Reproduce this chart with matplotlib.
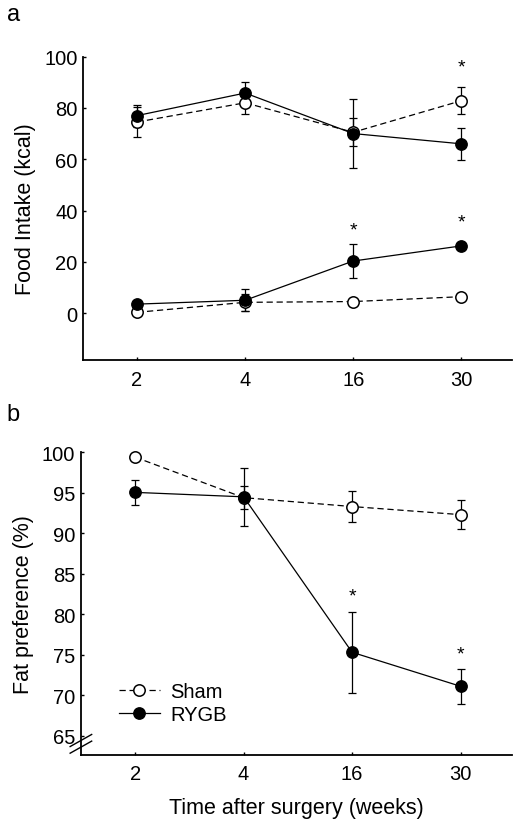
import matplotlib
matplotlib.use("Agg")
import matplotlib.pyplot as plt
import numpy as np

plt.rcParams['font.family'] = ['Liberation Sans', 'DejaVu Sans']

weeks = ["2", "4", "16", "30"]

# Panel a: food intake (kcal)
sham_total = [74.5, 82.0, 70.5, 82.8]
sham_total_err = [6.0, 4.5, 5.5, 5.3]
rygb_total = [77.0, 85.8, 70.0, 66.0]
rygb_total_err = [4.3, 4.2, 13.6, 6.2]
sham_fat = [0.3, 4.2, 4.5, 6.4]
sham_fat_err = [0.5, 3.2, 0.5, 0.5]
rygb_fat = [3.5, 5.0, 20.3, 26.2]
rygb_fat_err = [0.8, 4.3, 6.6, 0.8]
stars_a_x = [3, 2, 3]
stars_a_y = [96.0, 32.5, 35.5]

# Panel b: fat preference (%)
sham_pref = [99.4, 94.4, 93.3, 92.3]
sham_pref_err = [0.3, 1.4, 1.9, 1.8]
rygb_pref = [95.05, 94.5, 75.3, 71.1]
rygb_pref_err = [1.55, 3.6, 5.0, 2.15]
stars_b_x = [2, 3]
stars_b_y = [82.3, 75.1]

fig = plt.figure(figsize=(5.22, 8.29), dpi=100)
ax1 = fig.add_axes([0.159, 0.5645, 0.822, 0.366])
ax2 = fig.add_axes([0.155, 0.0884, 0.825, 0.3648])

x = np.arange(len(weeks))
ms = 8.2
lw = 0.9
cap = 2.6

def sham_plot(ax, y, e, label=None):
    ax.errorbar(x, y, yerr=e, fmt='none', ecolor='black', capsize=cap,
                capthick=lw, elinewidth=lw, clip_on=False, zorder=2)
    ax.plot(x, y, color='black', lw=lw, ls=(0, (5, 3)), marker='o',
            ms=ms, mfc='white', mec='black', mew=1.1, clip_on=False,
            zorder=3, label=label)

def rygb_plot(ax, y, e, label=None):
    ax.errorbar(x, y, yerr=e, fmt='none', ecolor='black', capsize=cap,
                capthick=lw, elinewidth=lw, clip_on=False, zorder=2)
    ax.plot(x, y, color='black', lw=lw, ls='-', marker='o',
            ms=ms, mfc='black', mec='black', clip_on=False,
            zorder=4, label=label)

sham_plot(ax1, sham_total, sham_total_err)
rygb_plot(ax1, rygb_total, rygb_total_err)
sham_plot(ax1, sham_fat, sham_fat_err)
rygb_plot(ax1, rygb_fat, rygb_fat_err)
for sx, sy in zip(stars_a_x, stars_a_y):
    ax1.text(sx, sy, "*", ha='center', va='center', fontsize=14)

sham_plot(ax2, sham_pref, sham_pref_err, label="Sham")
rygb_plot(ax2, rygb_pref, rygb_pref_err, label="RYGB")
for sx, sy in zip(stars_b_x, stars_b_y):
    ax2.text(sx, sy, "*", ha='center', va='center', fontsize=14)

ax1.set_ylim(-18.3, 100)
ax1.set_yticks([0, 20, 40, 60, 80, 100])
ax2.set_ylim(62.65, 100)
ax2.set_yticks([65, 70, 75, 80, 85, 90, 95, 100])

for ax in (ax1, ax2):
    ax.set_xlim(-0.5, 3.47)
    ax.set_xticks(x)
    ax.set_xticklabels(weeks)
    for s in ('top', 'right'):
        ax.spines[s].set_visible(False)
    for s in ('left', 'bottom'):
        ax.spines[s].set_linewidth(1.3)
    ax.tick_params(direction='in', length=2.5, width=1.0, labelsize=14.5, pad=4)
    ax.tick_params(axis='x', pad=7)

ax1.set_ylabel("Food Intake (kcal)", fontsize=15.5, labelpad=6)
ax2.set_ylabel("Fat preference (%)", fontsize=15.5, labelpad=6)
ax2.set_xlabel("Time after surgery (weeks)", fontsize=15.5, labelpad=10)

# axis break marks
for dy in (0.0, 0.022):
    ax2.plot([-0.025, 0.025], [0.005 + dy, 0.045 + dy], transform=ax2.transAxes,
             color='black', lw=1.0, clip_on=False)

leg = ax2.legend(loc='lower left', bbox_to_anchor=(0.055, 0.055), frameon=False,
                 fontsize=14.5, handlelength=2.05, handletextpad=0.5, labelspacing=0.2,
                 borderpad=0.2)

fig.text(0.013, 0.982, "a", fontsize=17, va='center', ha='left')
fig.text(0.013, 0.499, "b", fontsize=17, va='center', ha='left')

fig.savefig("out.png", dpi=100)
